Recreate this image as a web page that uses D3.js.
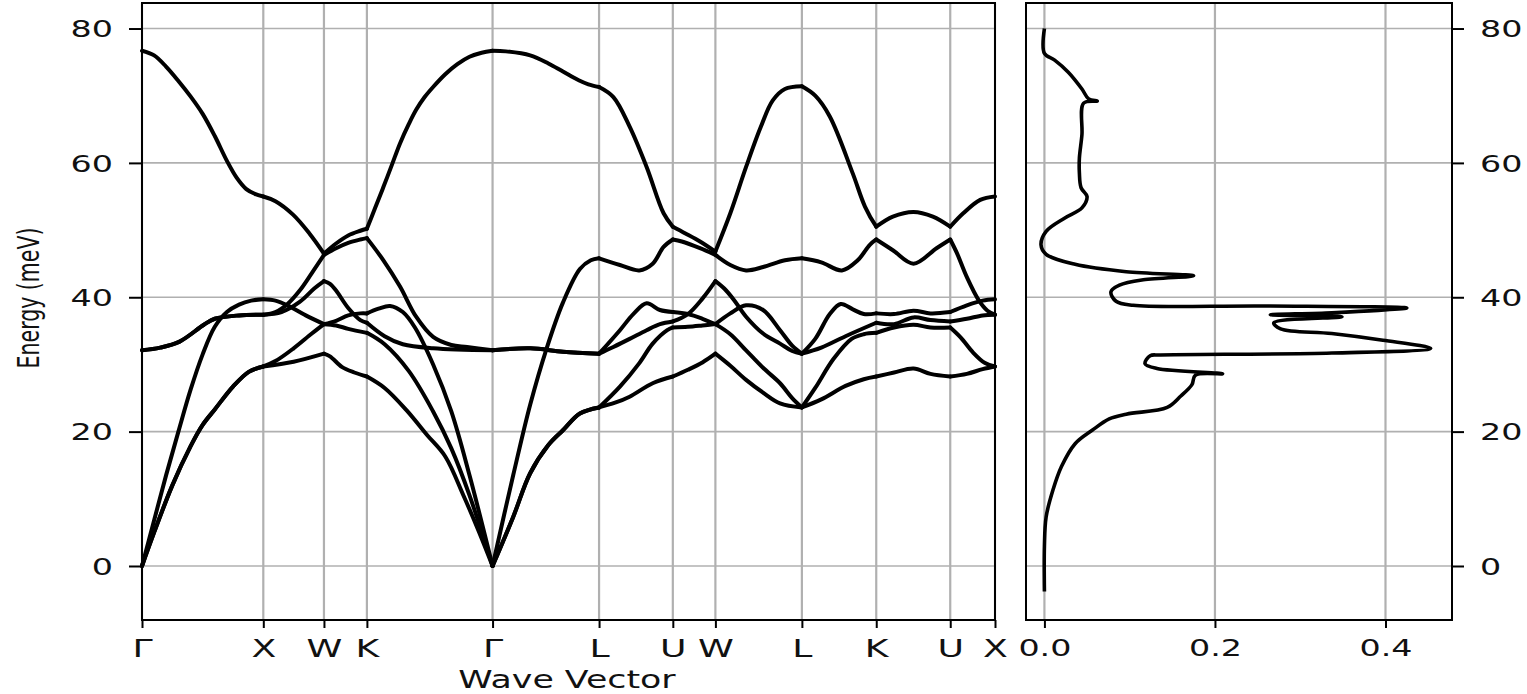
<!DOCTYPE html>
<html>
<head>
<meta charset="utf-8">
<script src="https://cdn.jsdelivr.net/npm/d3@7"></script>
<style>
  body { margin: 0; background: #fff; }
  svg { display: block; }
</style>
</head>
<body>
<svg id="chart" width="1527" height="694"></svg>
<script>
// high symmetry path (cumulative distance along the path)
const kLabels = ["Γ", "X", "W", "K", "Γ", "L", "U", "W", "L", "K", "U", "X"];
const kTicks = [0, 1, 1.5, 1.854, 2.89, 3.768, 4.376, 4.727, 5.44, 6.053, 6.663, 7.032];
const energyTicks = [0, 20, 40, 60, 80];
const dosTicks = [0, 0.2, 0.4];

// phonon branches, [distance, energy in meV]
const band1 = [
  [0, 76.7], [0.1, 76.0], [0.2, 74.3], [0.3, 72.2], [0.4, 69.9], [0.5, 67.3], [0.6, 64], [0.7, 60.3], [0.78, 57.8], [0.86, 56.1], [0.93, 55.4], [1, 55],
  [1.1, 54.3], [1.245, 52.3], [1.38, 49.5], [1.5, 46.5],
  [1.6, 48], [1.7, 49.2], [1.8, 49.9], [1.854, 50.2],
  [1.92, 53.2], [1.99, 56.4], [2.06, 59.7], [2.127, 62.9], [2.2, 65.8], [2.26, 67.9], [2.33, 69.8], [2.4, 71.3], [2.5, 73.2], [2.6, 74.7], [2.7, 75.8], [2.8, 76.4], [2.89, 76.7],
  [3.0, 76.6], [3.2, 76.0], [3.35, 74.8], [3.47, 73.6], [3.6, 72.3], [3.68, 71.7], [3.768, 71.3],
  [3.886, 69.8], [4.02, 65.4], [4.16, 59.4], [4.3, 52.5], [4.376, 50.5],
  [4.48, 49.5], [4.6, 48.3], [4.727, 46.8],
  [4.85, 52.5], [4.98, 59.4], [5.1, 65.3], [5.2, 69.3], [5.3, 71], [5.44, 71.4],
  [5.55, 70], [5.67, 66.9], [5.86, 58.4], [5.96, 53.5], [6.053, 50.5],
  [6.19, 52.0], [6.36, 52.7], [6.52, 52.0], [6.663, 50.5],
  [6.77, 52.5], [6.91, 54.5], [7.032, 55]
];
const band2 = [
  [0, 32.1], [0.15, 32.5], [0.31, 33.4], [0.51, 35.9], [0.6, 36.8], [0.8, 37.3], [1, 37.4],
  [1.1, 37.8], [1.2, 39], [1.3, 41], [1.4, 43.6], [1.5, 46.3],
  [1.6, 47.3], [1.7, 48.1], [1.8, 48.6], [1.854, 48.8],
  [1.99, 45.5], [2.127, 41.6], [2.26, 37.1], [2.4, 34.1], [2.55, 32.9], [2.68, 32.6], [2.89, 32.1],
  [3.2, 32.4], [3.47, 31.9], [3.768, 31.6],
  [3.94, 35.1], [4.05, 37.5], [4.16, 39.1], [4.27, 38.1], [4.376, 37.8],
  [4.5, 37.5], [4.62, 36.8], [4.727, 36],
  [4.85, 37.6], [4.98, 38.8], [5.12, 38.1], [5.26, 35.1], [5.36, 32.8], [5.44, 31.6],
  [5.55, 33.8], [5.67, 37.5], [5.76, 39.0], [5.86, 38.2], [5.95, 37.5], [6.053, 37.6],
  [6.2, 37.5], [6.36, 38], [6.5, 37.6], [6.663, 37.8],
  [6.8, 38.8], [6.93, 39.5], [7.032, 39.7]
];
const band3 = [
  [0, 32.1], [0.15, 32.5], [0.31, 33.4], [0.51, 35.9], [0.6, 36.8], [0.8, 37.3], [1, 37.4],
  [1.15, 37.8], [1.3, 39.3], [1.42, 41.3], [1.5, 42.4],
  [1.55, 42.0], [1.6, 41.0], [1.7, 38.4], [1.8, 36.6], [1.854, 36.2],
  [2.0, 34.2], [2.15, 33], [2.4, 32.4], [2.89, 32.1],
  [3.2, 32.4], [3.47, 31.9], [3.768, 31.6],
  [3.886, 32.6], [4.02, 33.8], [4.16, 35.1], [4.27, 36], [4.376, 36.4],
  [4.5, 37.5], [4.62, 39.8], [4.727, 42.4],
  [4.8, 41.3], [4.88, 39.6], [4.98, 37.1], [5.12, 34.6], [5.26, 33.1], [5.36, 32], [5.44, 31.6],
  [5.6, 32.5], [5.8, 34.2], [6.053, 36.2],
  [6.2, 36.0], [6.36, 37.0], [6.5, 36.6], [6.663, 36.4],
  [6.8, 36.8], [6.93, 37.3], [7.032, 37.4]
];
const band4 = [
  [0, 0], [0.1, 6.8], [0.2, 13.6], [0.3, 20], [0.4, 26.2], [0.5, 31.5], [0.6, 35.6], [0.7, 37.8], [0.8, 38.9], [0.9, 39.5], [1, 39.7],
  [1.1, 39.5], [1.2, 38.8], [1.35, 37.3], [1.5, 36],
  [1.6, 36.5], [1.7, 37.3], [1.8, 37.6], [1.854, 37.6],
  [1.95, 38.3], [2.045, 38.7], [2.15, 37.8], [2.25, 35.5], [2.4, 30], [2.55, 23], [2.7, 13.5], [2.89, 0],
  [3.06, 13.5], [3.2, 24], [3.336, 32.4], [3.47, 39.2], [3.61, 44.2], [3.7, 45.5], [3.768, 45.8],
  [3.94, 44.8], [4.1, 44.0], [4.21, 45.0], [4.3, 47.5], [4.376, 48.6],
  [4.45, 48.3], [4.6, 47.3], [4.727, 46.3],
  [4.85, 44.8], [4.98, 44.0], [5.12, 44.5], [5.3, 45.5], [5.44, 45.8],
  [5.6, 45.2], [5.77, 44.0], [5.9, 45.5], [6.0, 47.8], [6.053, 48.6],
  [6.19, 47.0], [6.36, 45.0], [6.55, 47.3], [6.663, 48.6],
  [6.72, 46.5], [6.8, 43], [6.9, 39.5], [6.97, 38], [7.032, 37.4]
];
const band5 = [
  [0, 0], [0.1, 5], [0.25, 12], [0.4, 17.8], [0.5, 21], [0.6, 23.3], [0.75, 26.7], [0.88, 28.9], [1, 29.7],
  [1.25, 30.4], [1.5, 31.6],
  [1.55, 31.2], [1.65, 29.6], [1.75, 28.8], [1.854, 28.2],
  [2.0, 26.5], [2.18, 23.2], [2.35, 19.5], [2.5, 16.3], [2.65, 10.5], [2.78, 5], [2.89, 0],
  [3.06, 7.3], [3.2, 13.8], [3.35, 18], [3.47, 20.2], [3.61, 22.7], [3.768, 23.6],
  [3.9, 24.3], [4.02, 25.2], [4.21, 27.2], [4.376, 28.2],
  [4.5, 29.2], [4.62, 30.3], [4.727, 31.6],
  [4.85, 29.8], [4.98, 27.7], [5.12, 25.8], [5.26, 24.2], [5.44, 23.6],
  [5.6, 24.8], [5.8, 26.8], [5.95, 27.8], [6.053, 28.2],
  [6.2, 28.8], [6.36, 29.4], [6.5, 28.6], [6.663, 28.2],
  [6.8, 28.6], [6.93, 29.3], [7.032, 29.7]
];
const band6 = [
  [0, 0], [0.1, 5], [0.25, 12], [0.4, 17.8], [0.5, 21], [0.6, 23.3], [0.75, 26.7], [0.88, 28.9], [1, 29.7],
  [1.1, 30.5], [1.25, 32.4], [1.4, 34.6], [1.5, 36],
  [1.6, 35.8], [1.7, 35.3], [1.854, 34.7],
  [2.0, 33], [2.2, 29], [2.4, 23], [2.55, 17.5], [2.7, 10.5], [2.89, 0],
  [3.06, 7.3], [3.2, 13.8], [3.35, 18], [3.47, 20.2], [3.61, 22.7], [3.768, 23.6],
  [3.94, 26.7], [4.1, 30.2], [4.21, 33.1], [4.33, 35.1], [4.376, 35.5],
  [4.5, 35.6], [4.62, 35.8], [4.727, 36],
  [4.85, 34.5], [4.98, 32.1], [5.12, 29.5], [5.26, 27.2], [5.36, 25], [5.44, 23.6],
  [5.55, 26.5], [5.7, 30.8], [5.85, 33.8], [5.95, 34.5], [6.053, 34.7],
  [6.2, 35.5], [6.36, 35.9], [6.5, 35.5], [6.663, 35.5],
  [6.75, 34], [6.85, 31.8], [6.95, 30.2], [7.032, 29.7]
];

// density of states, [dos, energy in meV]
const dos = [
  [0, 80], [0, 76.3], [0.012, 75.3], [0.028, 73.5], [0.044, 71.0], [0.052, 69.5], [0.062, 69.2], [0.046, 68.9],
  [0.044, 64.2], [0.041, 60.7], [0.041, 58.5], [0.043, 56.3], [0.05, 55.0], [0.044, 53.3], [0.024, 51.8],
  [0.002, 49.8], [-0.004, 47.8], [0.002, 46.4], [0.036, 44.9], [0.096, 43.8], [0.175, 43.2], [0.116, 42.6],
  [0.088, 41.8], [0.078, 40.8], [0.084, 39.4], [0.104, 38.8], [0.257, 38.7], [0.425, 38.4], [0.337, 37.7],
  [0.265, 37.4], [0.349, 37.1], [0.269, 36.2], [0.277, 35.3], [0.337, 34.6], [0.397, 33.6], [0.453, 32.4],
  [0.337, 31.7], [0.136, 31.4], [0.124, 31.3], [0.118, 30.1], [0.132, 29.4], [0.209, 28.6], [0.177, 28.4],
  [0.173, 27.0], [0.16, 25.3], [0.144, 23.6], [0.096, 22.6], [0.076, 21.9], [0.056, 20.2], [0.036, 18.2],
  [0.02, 14.8], [0.01, 11.3], [0.002, 7.3], [0, 2.9], [0, -3.8]
];

const bands = [band1, band2, band3, band4, band5, band6];

const SX = 1.45;            // the picture is stretched horizontally
const FONT = "DejaVu Sans, Verdana, sans-serif";
const plotTop = 3, plotBottom = 620;
const gridColor = "#b0b0b0";

const svg = d3.select("#chart");

const x = d3.scaleLinear().domain([0, 7.032]).range([142, 995]);
const xd = d3.scaleLinear().domain([-0.0216, 0.478]).range([1026, 1452]);
const y = d3.scaleLinear().domain([-8.04, 83.8]).range([plotBottom, plotTop]);

// ---------- band structure panel ----------
const left = svg.append("g");

left.selectAll(".vgrid").data(kTicks).join("line")
  .attr("x1", d => x(d)).attr("x2", d => x(d))
  .attr("y1", plotTop).attr("y2", plotBottom)
  .attr("stroke", gridColor).attr("stroke-width", 2.2);

left.selectAll(".hgrid").data(energyTicks).join("line")
  .attr("x1", x.range()[0]).attr("x2", x.range()[1])
  .attr("y1", d => y(d)).attr("y2", d => y(d))
  .attr("stroke", gridColor).attr("stroke-width", 1.6);

const bandLine = d3.line()
  .x(d => x(d[0]))
  .y(d => y(d[1]))
  .curve(d3.curveCatmullRom.alpha(0.5));

// split every branch at the high symmetry points so cusps stay sharp
const pieces = [];
bands.forEach(b => {
  for (let i = 0; i < kTicks.length - 1; i++) {
    const seg = b.filter(p => p[0] >= kTicks[i] - 1e-6 && p[0] <= kTicks[i + 1] + 1e-6);
    if (seg.length > 1) pieces.push(seg);
  }
});

left.selectAll(".band").data(pieces).join("path")
  .attr("class", "band")
  .attr("d", bandLine)
  .attr("fill", "none")
  .attr("stroke", "#000")
  .attr("stroke-width", 4)
  .attr("stroke-linejoin", "round")
  .attr("stroke-linecap", "round");

left.append("rect")
  .attr("x", x.range()[0]).attr("y", plotTop)
  .attr("width", x.range()[1] - x.range()[0]).attr("height", plotBottom - plotTop)
  .attr("fill", "none").attr("stroke", "#000").attr("stroke-width", 2);

const xAxis = left.append("g")
  .attr("transform", `translate(0,${plotBottom})`)
  .call(d3.axisBottom(x).tickValues(kTicks).tickFormat((d, i) => kLabels[i]).tickSize(8).tickPadding(4));
xAxis.select(".domain").remove();
xAxis.selectAll("line").attr("stroke", "#000").attr("stroke-width", 2);
xAxis.selectAll("text")
  .attr("y", 37).attr("dy", 0)
  .attr("transform", `scale(${SX},1)`)
  .style("font-family", FONT).style("font-size", "25px").attr("fill", "#111");

const yAxis = left.append("g")
  .attr("transform", `translate(${x.range()[0]},0)`)
  .call(d3.axisLeft(y).tickValues(energyTicks).tickSize(13));
yAxis.select(".domain").remove();
yAxis.selectAll("line").attr("stroke", "#000").attr("stroke-width", 2);
yAxis.selectAll("text")
  .attr("x", -29 / SX).attr("dy", "0.36em")
  .attr("transform", `scale(${SX},1)`)
  .style("font-family", FONT).style("font-size", "23px").attr("fill", "#111");

svg.append("text")
  .attr("transform", `translate(567,688) scale(${SX},1)`)
  .attr("text-anchor", "middle")
  .style("font-family", FONT).style("font-size", "24px").attr("fill", "#111")
  .text("Wave Vector");

svg.append("text")
  .attr("transform", `translate(39,298) scale(${SX},1) rotate(-90)`)
  .attr("text-anchor", "middle")
  .style("font-family", FONT).style("font-size", "20.5px").attr("fill", "#111")
  .text("Energy (meV)");

// ---------- density of states panel ----------
const right = svg.append("g");

right.selectAll(".vgrid").data(dosTicks).join("line")
  .attr("x1", d => xd(d)).attr("x2", d => xd(d))
  .attr("y1", plotTop).attr("y2", plotBottom)
  .attr("stroke", gridColor).attr("stroke-width", 2.2);

right.selectAll(".hgrid").data(energyTicks).join("line")
  .attr("x1", xd.range()[0]).attr("x2", xd.range()[1])
  .attr("y1", d => y(d)).attr("y2", d => y(d))
  .attr("stroke", gridColor).attr("stroke-width", 1.6);

right.append("path")
  .datum(dos)
  .attr("d", d3.line().x(d => xd(d[0])).y(d => y(d[1])).curve(d3.curveCatmullRom.alpha(0.5)))
  .attr("fill", "none")
  .attr("stroke", "#000")
  .attr("stroke-width", 3.6)
  .attr("stroke-linejoin", "round");

right.append("rect")
  .attr("x", xd.range()[0]).attr("y", plotTop)
  .attr("width", xd.range()[1] - xd.range()[0]).attr("height", plotBottom - plotTop)
  .attr("fill", "none").attr("stroke", "#000").attr("stroke-width", 2);

const dAxis = right.append("g")
  .attr("transform", `translate(0,${plotBottom})`)
  .call(d3.axisBottom(xd).tickValues(dosTicks).tickFormat(d3.format(".1f")).tickSize(8));
dAxis.select(".domain").remove();
dAxis.selectAll("line").attr("stroke", "#000").attr("stroke-width", 2);
dAxis.selectAll("text")
  .attr("y", 36).attr("dy", 0)
  .attr("transform", `scale(${SX},1)`)
  .style("font-family", FONT).style("font-size", "23px").attr("fill", "#111");

const rAxis = right.append("g")
  .attr("transform", `translate(${xd.range()[1]},0)`)
  .call(d3.axisRight(y).tickValues(energyTicks).tickSize(12));
rAxis.select(".domain").remove();
rAxis.selectAll("line").attr("stroke", "#000").attr("stroke-width", 2);
rAxis.selectAll("text")
  .attr("x", 28 / SX).attr("dy", "0.36em")
  .attr("transform", `scale(${SX},1)`)
  .style("font-family", FONT).style("font-size", "23px").attr("fill", "#111");
</script>
</body>
</html>
